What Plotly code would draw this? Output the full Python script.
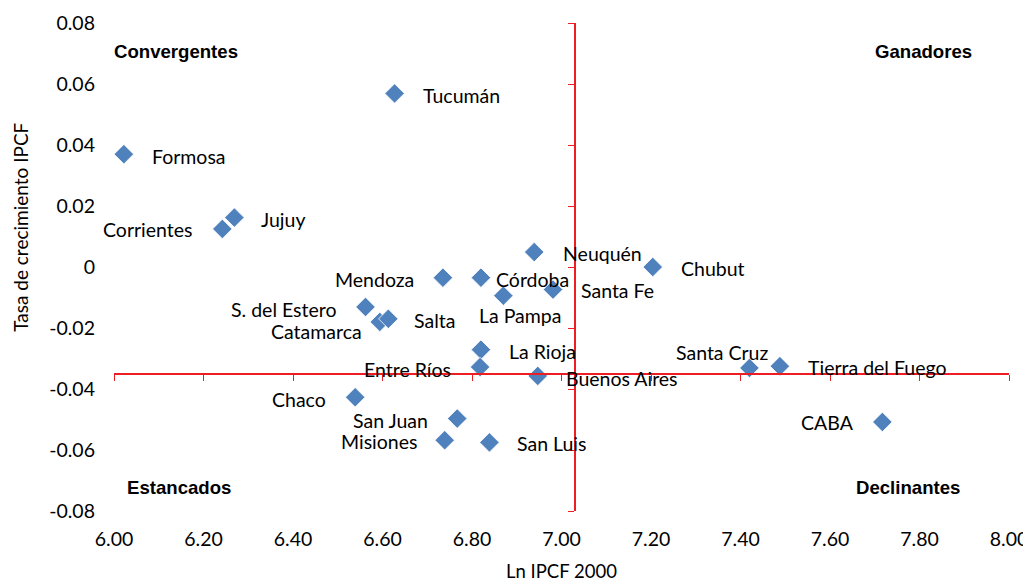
import plotly.graph_objects as go

# Data
provincias = ["Tucumán", "Formosa", "Jujuy", "Corrientes", "Neuquén", "Chubut",
              "Mendoza", "Córdoba", "La Pampa", "Santa Fe", "S. del Estero",
              "Catamarca", "Salta", "La Rioja", "Entre Ríos", "Buenos Aires",
              "Santa Cruz", "Tierra del Fuego", "Chaco", "San Juan", "Misiones",
              "San Luis", "CABA"]
ln_ipcf_2000 = [6.627, 6.022, 6.269, 6.242, 6.939, 7.204,
                6.735, 6.820, 6.870, 6.981, 6.562,
                6.594, 6.613, 6.820, 6.818, 6.947,
                7.420, 7.488, 6.539, 6.767, 6.739,
                6.839, 7.717]
tasa_crec = [0.0569, 0.0370, 0.0162, 0.0125, 0.0049, 0.0000,
             -0.0035, -0.0035, -0.0094, -0.0074, -0.0131,
             -0.0180, -0.0170, -0.0271, -0.0328, -0.0357,
             -0.0331, -0.0325, -0.0427, -0.0497, -0.0568,
             -0.0575, -0.0508]
cruce_x = 7.03
cruce_y = -0.0352
x_ticks = [6.0, 6.2, 6.4, 6.6, 6.8, 7.0, 7.2, 7.4, 7.6, 7.8, 8.0]
y_ticks = [-0.08, -0.06, -0.04, -0.02, 0.0, 0.02, 0.04, 0.06, 0.08]
x_tick_text = ["6.00", "6.20", "6.40", "6.60", "6.80", "7.00", "7.20", "7.40", "7.60", "7.80", "8.00"]
y_tick_text = ["-0.08", "-0.06", "-0.04", "-0.02", "0", "0.02", "0.04", "0.06", "0.08"]
cuadrantes = ["Convergentes", "Ganadores", "Estancados", "Declinantes"]

# Label placement styles (anchor, xshift px, yshift px)
label_style = [("left", 26, -2), ("left", 26, -2), ("left", 25, -2), ("right", -27, -1),
               ("left", 27, -1), ("left", 26, -1), ("right", -27, -2), ("left", 13, -2),
               ("center", 17, -20), ("left", 26, -1), ("right", -27, -3),
               ("right", -16, -10), ("left", 24, -2), ("left", 26, -2), ("right", -27, -2),
               ("left", 26, -3), ("center", -27, 15), ("left", 26, -1), ("right", -27, -2),
               ("right", -27, -2), ("right", -26, -1), ("left", 26, -1), ("right", -26, -1)]
cuad_pos = [(0.069, 0.941), (0.904, 0.942), (0.073, 0.048), (0.887, 0.048)]

RED = "#EE1D23"
LABEL_FONT = dict(family="Lato", size=19.5, color="#000000")

fig = go.Figure()
fig.add_trace(go.Scatter(
    x=ln_ipcf_2000, y=tasa_crec, mode="markers",
    marker=dict(symbol="diamond", size=15, color="#4F81BD",
                line=dict(color="#FFFFFF", width=0.8)),
    hoverinfo="text", text=provincias, showlegend=False))
# helper trace for crossing axes
fig.add_trace(go.Scatter(x=[None], y=[None], xaxis="x2", yaxis="y2", showlegend=False))

ann = []
for name, xv, yv, st in zip(provincias, ln_ipcf_2000, tasa_crec, label_style):
    ann.append(dict(x=xv, y=yv, xref="x", yref="y", text=name, showarrow=False,
                    xanchor=st[0], yanchor="middle", xshift=st[1], yshift=st[2],
                    font=LABEL_FONT))
for txt, (px, py) in zip(cuadrantes, cuad_pos):
    ann.append(dict(x=px, y=py, xref="paper", yref="paper", text="<b>" + txt + "</b>",
                    showarrow=False, xanchor="center", yanchor="middle",
                    font=dict(family="Liberation Sans", size=18.6, color="#000000")))
ann.append(dict(x=0.5, y=-0.122, xref="paper", yref="paper", text="Ln IPCF 2000",
                showarrow=False, xanchor="center", yanchor="middle",
                font=dict(family="Lato", size=18.5, color="#000000")))
ann.append(dict(x=-0.1047, y=0.581, xref="paper", yref="paper", text="Tasa de crecimiento IPCF",
                showarrow=False, xanchor="center", yanchor="middle", textangle=-90,
                font=dict(family="Lato", size=19, color="#000000")))

pos_x = (cruce_x - x_ticks[0]) / (x_ticks[-1] - x_ticks[0])
pos_y = (cruce_y - y_ticks[0]) / (y_ticks[-1] - y_ticks[0])

fig.update_layout(
    width=1031, height=582,
    margin=dict(l=105.5, r=29.7, t=14.7, b=79.3),
    paper_bgcolor="white", plot_bgcolor="white",
    font=dict(family="Lato", color="#000000"),
    xaxis=dict(range=[x_ticks[0], x_ticks[-1]], tickvals=x_ticks, ticktext=x_tick_text,
               showgrid=False, zeroline=False, showline=False, ticks="",
               tickfont=dict(family="Lato", size=19.5, color="#000000"),
               ticklabelstandoff=14, automargin=False),
    yaxis=dict(range=[y_ticks[0], y_ticks[-1]], tickvals=y_ticks, ticktext=y_tick_text,
               showgrid=False, zeroline=False, showline=False, ticks="",
               tickfont=dict(family="Lato", size=19.5, color="#000000"),
               ticklabelstandoff=18, automargin=False),
    xaxis2=dict(range=[x_ticks[0], x_ticks[-1]], tickvals=x_ticks, overlaying="x",
                anchor="free", position=pos_y, showline=True, linecolor=RED, linewidth=1.6,
                ticks="outside", ticklen=6, tickcolor=RED, tickwidth=1.2,
                showticklabels=False, showgrid=False, zeroline=False),
    yaxis2=dict(range=[y_ticks[0], y_ticks[-1]], tickvals=y_ticks, overlaying="y",
                anchor="free", position=pos_x, side="left", showline=True, linecolor=RED,
                linewidth=1.6, ticks="outside", ticklen=6, tickcolor=RED, tickwidth=1.2,
                showticklabels=False, showgrid=False, zeroline=False),
    annotations=ann,
)

fig.write_html("out.html")
